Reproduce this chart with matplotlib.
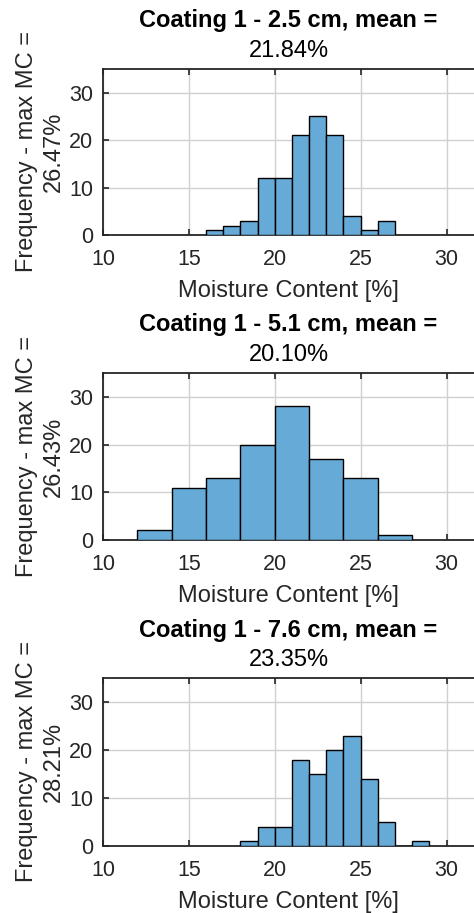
import matplotlib
matplotlib.use("Agg")
import matplotlib.pyplot as plt
import numpy as np

plt.rcParams['font.family'] = ['Liberation Sans', 'DejaVu Sans']

depths = ["2.5", "5.1", "7.6"]
means = ["21.84", "20.10", "23.35"]
max_mc = ["26.47", "26.43", "28.21"]

edges_1 = [16, 17, 18, 19, 20, 21, 22, 23, 24, 25, 26, 27]
counts_1 = [1, 2, 3, 12, 12, 21, 25, 21, 4, 1, 3]
edges_2 = [12, 14, 16, 18, 20, 22, 24, 26, 28]
counts_2 = [2, 11, 13, 20, 28, 17, 13, 1]
edges_3 = [18, 19, 20, 21, 22, 23, 24, 25, 26, 27, 28, 29]
counts_3 = [1, 4, 4, 18, 15, 20, 23, 14, 5, 0, 1]

xticks = [10, 15, 20, 25, 30]
yticks = [0, 10, 20, 30]

data = [(edges_1, counts_1), (edges_2, counts_2), (edges_3, counts_3)]

W, H = 474, 913
fig = plt.figure(figsize=(W / 100, H / 100), dpi=100)

# pixel boxes (top, bottom)
boxes = [(69, 235), (373, 540), (678, 846)]
left_px = 103
face = (0.4, 0.668, 0.845)
spine_c = '#262626'

for i, ((edges, counts), (top, bot)) in enumerate(zip(data, boxes)):
    ax = fig.add_axes([left_px / W, 1 - bot / H, (W - left_px) / W, (bot - top) / H])
    e = np.array(edges, dtype=float)
    ax.bar(e[:-1], counts, width=np.diff(e), align='edge', color=face,
           edgecolor='black', linewidth=1.0, zorder=3)
    ax.set_xlim(10, 31.6)
    ax.set_ylim(0, 35)
    ax.set_xticks(xticks)
    ax.set_yticks(yticks)
    ax.grid(True, color='#d0d0d0', linewidth=1.0, zorder=0)
    ax.set_axisbelow(True)
    ax.tick_params(direction='in', length=4, width=1.2, colors=spine_c,
                   labelsize=15.5, top=True, right=False, labelcolor='#262626')
    ax.tick_params(axis='y', pad=7)
    ax.tick_params(axis='x', pad=10)
    for s in ['left', 'bottom', 'top']:
        ax.spines[s].set_color(spine_c)
        ax.spines[s].set_linewidth(1.3)
    ax.spines['right'].set_visible(False)
    ax.set_xlabel("Moisture Content [%]", fontsize=17, color='#262626', labelpad=7)
    ax.set_ylabel("Frequency - max MC =\n" + max_mc[i] + "%", fontsize=17,
                  color='#262626', linespacing=1.3)
    ax.yaxis.set_label_coords((65 - left_px) / (W - left_px), 0.5)
    cx = (left_px + W) / 2 / W
    fig.text(cx, 1 - (top - 48) / H, "Coating 1 - " + depths[i] + " cm, mean =",
             ha='center', va='center', fontsize=17, fontweight='bold')
    fig.text(cx, 1 - (top - 18) / H, means[i] + "%",
             ha='center', va='center', fontsize=17)

fig.savefig("out.png", dpi=100)
